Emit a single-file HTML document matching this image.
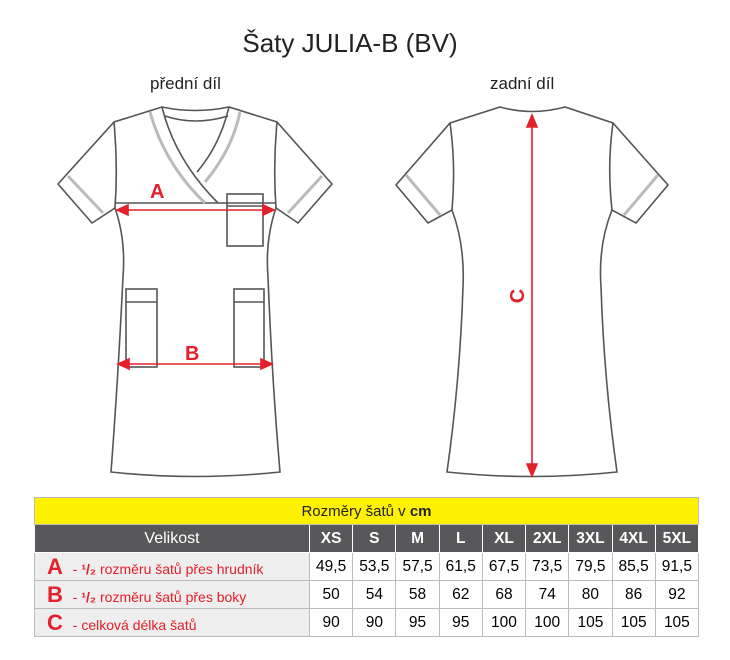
<!DOCTYPE html>
<html><head><meta charset="utf-8"><style>
body{margin:0;width:730px;height:660px;background:#fff;font-family:"Liberation Sans",sans-serif;position:relative;overflow:hidden}
.t{position:absolute;white-space:nowrap}
table{position:absolute;left:34px;top:497px;width:665px;border-collapse:collapse;font-size:15.5px}
td{border:1px solid #bbb;text-align:center;padding:0;height:27px}
.y td{background:#fff200;color:#222;height:26px;font-size:15px}
.h td{background:#58585a;color:#fff;font-weight:bold;font-size:15.5px;border-color:#fff}
.h td.l{font-weight:normal;font-size:16px}
.lab{background:#eeeeee;text-align:left;color:#e3202b;padding-left:12px;font-size:14px}
.lab b{font-size:22px;font-weight:900;margin-right:6px}
.lab b.h{font-size:14px;margin:0}
</style></head><body>
<div class="t" style="left:0;width:700px;text-align:center;top:28px;font-size:26px;color:#222">Šaty JULIA-B (BV)</div>
<div class="t" style="left:150px;top:74px;font-size:17px;color:#222">přední díl</div>
<div class="t" style="left:490px;top:74px;font-size:17px;color:#222">zadní díl</div>
<svg width="730" height="490" style="position:absolute;left:0;top:0">
<g fill="none" stroke="#555" stroke-width="1.6">
<path d="M162 107 L114 122 L58 184 L92 223 L115 208 Q126 240 123 277 Q118 380 111 472 Q195 481 280 472 Q272 380 268 277 Q265 240 276 208 L298 223 L332 184 L277 122 L229 107 Q195 114 162 107Z"/>
<path d="M114 122 Q118 165 115 208 M277 122 Q273 165 276 208"/>
<path d="M165 116 Q195 126 228 116"/>
<path d="M162 107 Q175 160 218 203 M229 107 Q220 145 197 172"/>
<path d="M115 203 L276 203"/>
<rect x="227" y="194" width="36" height="52"/><path d="M227 206 L263 206"/>
<rect x="126" y="289" width="31" height="78"/><path d="M126 302 L157 302"/>
<rect x="234" y="289" width="30" height="78"/><path d="M234 302 L264 302"/>
<path d="M500 107 L450 123 L396 185 L428 223 L452 210 Q465 245 463 287 Q460 380 447 472 Q532 481 617 472 Q604 380 601 287 Q598 245 612 210 L636 223 L668 185 L613 123 L565 107 Q532 116 500 107Z"/>
<path d="M450 123 Q456 165 452 210 M613 123 Q607 165 612 210"/>
</g>
<g fill="none" stroke="#bbb" stroke-width="3">
<path d="M150 112 Q165 165 205 203"/><path d="M240 112 Q232 150 205 182"/>
<path d="M68 176 L103 213 M322 176 L288 213"/>
<path d="M406 175 L440 215 M658 175 L624 215"/>
</g>
<g stroke="#e3202b" stroke-width="1.6" fill="#e3202b">
<path d="M125 210 L266 210"/><path d="M117 210 L128 205 L128 215Z M274 210 L263 205 L263 215Z"/>
<path d="M126 364 L264 364"/><path d="M118 364 L129 359 L129 369Z M272 364 L261 359 L261 369Z"/>
<path d="M532 123 L532 467"/><path d="M532 115 L527 127 L537 127Z M532 476 L527 464 L537 464Z"/>
</g>
<g fill="#e3202b" font-family="Liberation Sans,sans-serif" font-weight="900" font-size="20">
<text x="150" y="198">A</text><text x="185" y="360">B</text>
<text transform="translate(524 296) rotate(-90)" text-anchor="middle">C</text>
</g>
</svg>
<table>
<tr class="y"><td colspan="10">Rozměry šatů v <b>cm</b></td></tr>
<tr class="h"><td class="l" style="width:274px">Velikost</td><td>XS</td><td>S</td><td>M</td><td>L</td><td>XL</td><td>2XL</td><td>3XL</td><td>4XL</td><td>5XL</td></tr>
<tr><td class="lab"><b>A</b> - <b class="h">¹/₂</b> rozměru šatů přes hrudník</td><td>49,5</td><td>53,5</td><td>57,5</td><td>61,5</td><td>67,5</td><td>73,5</td><td>79,5</td><td>85,5</td><td>91,5</td></tr>
<tr><td class="lab"><b>B</b> - <b class="h">¹/₂</b> rozměru šatů přes boky</td><td>50</td><td>54</td><td>58</td><td>62</td><td>68</td><td>74</td><td>80</td><td>86</td><td>92</td></tr>
<tr><td class="lab"><b>C</b> - celková délka šatů</td><td>90</td><td>90</td><td>95</td><td>95</td><td>100</td><td>100</td><td>105</td><td>105</td><td>105</td></tr>
</table>
</body></html>
